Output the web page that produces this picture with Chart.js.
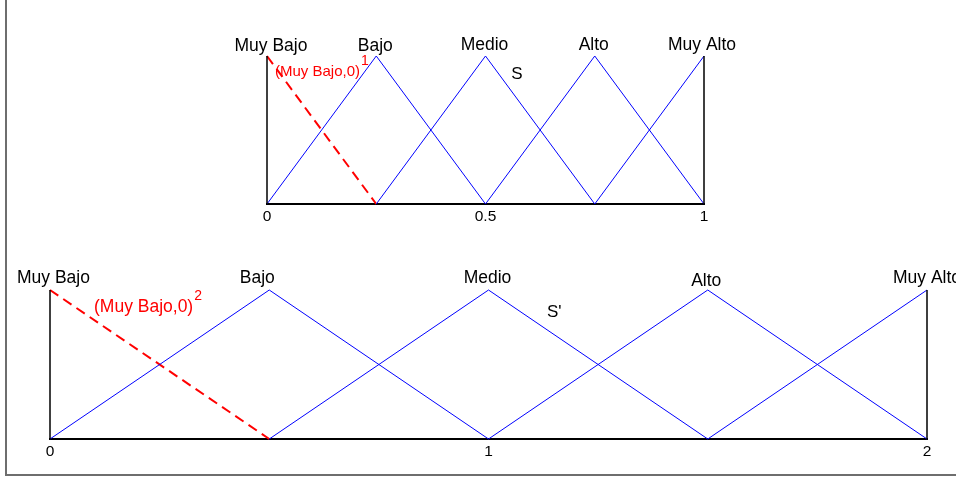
<!DOCTYPE html>
<html>
<head>
<meta charset="utf-8">
<script src="https://cdn.jsdelivr.net/npm/chart.js@4.4.1/dist/chart.umd.min.js"></script>
<style>
  html, body { margin: 0; padding: 0; background: #fff; }
  #wrap { position: relative; width: 956px; height: 481px; overflow: hidden; }
  #wrap canvas { position: absolute; left: 0; top: 0; }
  #frame { position: absolute; left: 5px; top: -2px; width: 970px; height: 476px;
           border-left: 2px solid #6e6e6e; border-bottom: 2px solid #6e6e6e; }
</style>
</head>
<body>
<div id="wrap">
  <div id="frame"></div>
  <canvas id="chartS" width="956" height="481"></canvas>
  <canvas id="chartS2" width="956" height="481"></canvas>
</div>
<script>
// linguistic terms, same for both partitions
const terms = ['Muy Bajo', 'Bajo', 'Medio', 'Alto', 'Muy Alto'];
// peak of each triangular term
const peaksS = [0, 0.25, 0.5, 0.75, 1];
const peaksS2 = [0, 0.5, 1, 1.5, 2];
// axis tick values
const ticksS = [0, 0.5, 1];
const ticksS2 = [0, 1, 2];
// highlighted term (first one) and its level
const tagText = '(Muy Bajo,0)';

const FONT = "'Liberation Sans', Arial, sans-serif";

function seg(points, color, width, dash) {
  return {
    data: points,
    borderColor: color,
    borderWidth: width,
    borderDash: dash || [],
    pointRadius: 0,
    tension: 0,
    fill: false,
    clip: false
  };
}

// triangles from consecutive peaks; the edges of the universe are black
// and the falling side of the first term is dashed red
function buildSets(peaks) {
  const n = peaks.length;
  const sets = [];
  sets.push(seg([{x: peaks[0], y: 0}, {x: peaks[0], y: 1}], '#000', 1.5));
  sets.push(seg([{x: peaks[n - 1], y: 1}, {x: peaks[n - 1], y: 0}], '#000', 1.5));
  for (let i = 1; i < n; i++) {
    const pts = [{x: peaks[i - 1], y: 0}, {x: peaks[i], y: 1}];
    if (i < n - 1) pts.push({x: peaks[i + 1], y: 0});
    sets.push(seg(pts, '#0000ff', 1));
  }
  sets.push(seg([{x: peaks[0], y: 1}, {x: peaks[1], y: 0}], '#ff0000', 2, [10, 6]));
  return sets;
}

const termLabels = {
  id: 'termLabels',
  afterDraw(chart, args, o) {
    const ctx = chart.ctx;
    const x = chart.scales.x, y = chart.scales.y;
    const top = y.getPixelForValue(1);
    ctx.save();
    ctx.textBaseline = 'alphabetic';
    ctx.textAlign = 'center';
    ctx.fillStyle = '#000';
    ctx.font = o.termSize + 'px ' + FONT;
    o.peaks.forEach((p, i) => {
      ctx.fillText(terms[i], x.getPixelForValue(p) + o.nudge[i][0], top - o.lift + o.nudge[i][1]);
    });
    // set name
    ctx.font = o.nameSize + 'px ' + FONT;
    ctx.fillText(o.name, x.getPixelForValue(o.namePos[0]), y.getPixelForValue(o.namePos[1]));
    // red tag next to the first term
    ctx.fillStyle = '#ff0000';
    ctx.textAlign = 'left';
    ctx.font = o.tagSize + 'px ' + FONT;
    const tx = x.getPixelForValue(o.peaks[0]) + o.tagOffset[0];
    const ty = top + o.tagOffset[1];
    ctx.fillText(tagText, tx, ty);
    const w = ctx.measureText(tagText).width;
    ctx.font = o.supSize + 'px ' + FONT;
    ctx.fillText(o.sup, tx + w + 1, ty - o.supRise);
    ctx.restore();
  }
};

function makeChart(id, peaks, ticks, padding, labelOpts) {
  return new Chart(document.getElementById(id), {
    type: 'line',
    data: { datasets: buildSets(peaks) },
    options: {
      responsive: false,
      animation: false,
      events: [],
      layout: { padding: padding },
      plugins: {
        legend: { display: false },
        tooltip: { enabled: false },
        termLabels: Object.assign({ peaks: peaks }, labelOpts)
      },
      scales: {
        x: {
          type: 'linear',
          min: ticks[0],
          max: ticks[ticks.length - 1],
          afterBuildTicks: s => { s.ticks = ticks.map(v => ({ value: v })); },
          afterFit: s => { s.height = 30; },
          grid: { display: false, drawTicks: false },
          border: { display: true, color: '#000', width: 2 },
          ticks: {
            color: '#000',
            padding: 3,
            autoSkip: false,
            maxRotation: 0,
            font: { family: FONT, size: 15.5 },
            callback: v => String(v)
          }
        },
        y: { display: false, min: 0, max: 1 }
      }
    },
    plugins: [termLabels]
  });
}

makeChart('chartS', peaksS, ticksS,
  { left: 267, right: 252, top: 56, bottom: 247 },
  {
    termSize: 17.5, lift: 5,
    nudge: [[4, 0], [-1, 0], [-1, -1], [-1, -1], [-2, -1]],
    name: 'S', nameSize: 17, namePos: [0.572, 0.845],
    tagSize: 15, tagOffset: [8, 20], sup: '1', supSize: 14, supRise: 11
  });

makeChart('chartS2', peaksS2, ticksS2,
  { left: 50, right: 29, top: 290, bottom: 12 },
  {
    termSize: 17.5, lift: 7,
    nudge: [[3.5, 0], [-12, 0], [-1, 0], [-1.5, 2.5], [0, 0]],
    name: "S'", nameSize: 17, namePos: [1.15, 0.82],
    tagSize: 17.5, tagOffset: [44, 22], sup: '2', supSize: 14, supRise: 12.5
  });
</script>
</body>
</html>
